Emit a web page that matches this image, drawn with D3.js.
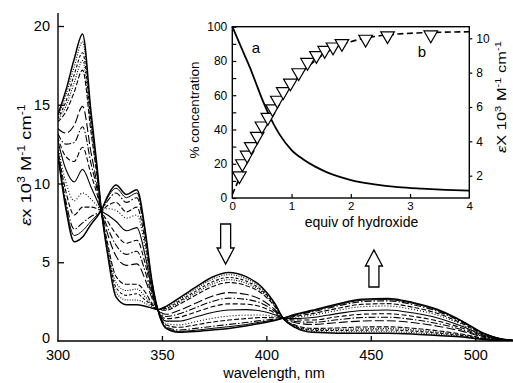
<!DOCTYPE html>
<html>
<head>
<meta charset="utf-8">
<script src="https://cdn.jsdelivr.net/npm/d3@7"></script>
<style>
  html, body { margin: 0; padding: 0; background: #fff; }
  svg { display: block; font-family: "Liberation Sans", Arial, sans-serif; }
</style>
</head>
<body>
<svg id="chart" width="513" height="383"></svg>
<script>
// Titration spectra: wavelength grid (nm) and molar absorptivity (10^3 M^-1 cm^-1)
const wavelengths = [300,304,308,312,316,319,321,324,328,333,338,342,345,348,352,358,366,374,382,390,398,404,408,414,422,434,446,458,470,482,494,504,512,520];

const spectra = [
  [14.3,15.9,17.9,19.5,14.6,11.0,8.3,5.5,2.8,2.3,2.3,2.2,2.1,2.0,2.2,2.7,3.4,4.05,4.35,4.1,3.4,2.4,1.45,0.85,0.55,0.5,0.5,0.5,0.45,0.35,0.25,0.1,0.03,0.0],
  [14.2,15.6,17.4,19.0,14.3,10.9,8.3,5.6,3.1,2.6,2.6,2.4,2.2,2.0,2.14,2.61,3.29,3.92,4.21,3.97,3.31,2.36,1.45,0.88,0.61,0.57,0.59,0.59,0.53,0.42,0.29,0.12,0.04,0.0],
  [14.1,15.2,16.9,18.3,14.0,10.7,8.3,5.8,3.4,2.9,3.0,2.6,2.3,2.0,2.07,2.51,3.15,3.75,4.03,3.82,3.2,2.3,1.45,0.93,0.68,0.67,0.69,0.7,0.63,0.5,0.34,0.14,0.04,0.0],
  [14.0,14.9,16.4,17.8,13.7,10.6,8.3,6.0,3.7,3.2,3.3,2.8,2.35,2.0,2.02,2.42,3.04,3.61,3.89,3.69,3.11,2.26,1.45,0.96,0.73,0.74,0.78,0.79,0.71,0.56,0.38,0.15,0.05,0.0],
  [13.9,14.55,15.8,17.2,13.3,10.4,8.3,6.2,4.1,3.6,3.6,3.1,2.44,2.0,1.95,2.31,2.9,3.45,3.71,3.53,3.0,2.2,1.45,1.0,0.8,0.83,0.89,0.9,0.81,0.65,0.43,0.17,0.05,0.01],
  [13.5,13.2,13.7,14.9,12.0,9.9,8.3,6.8,5.4,4.8,4.9,3.9,2.8,2.0,1.7,1.93,2.39,2.84,3.07,2.97,2.59,2.0,1.45,1.16,1.05,1.17,1.27,1.29,1.17,0.94,0.61,0.24,0.07,0.01],
  [13.2,12.5,12.6,13.6,11.3,9.6,8.3,7.2,6.1,5.5,5.7,4.4,3.0,2.0,1.56,1.71,2.11,2.51,2.72,2.65,2.37,1.89,1.45,1.24,1.19,1.35,1.49,1.51,1.37,1.11,0.71,0.28,0.09,0.01],
  [13.0,11.7,11.4,12.3,10.6,9.3,8.3,7.6,6.8,6.2,6.4,4.9,3.2,2.0,1.42,1.5,1.83,2.17,2.36,2.34,2.14,1.78,1.45,1.33,1.33,1.54,1.7,1.73,1.57,1.27,0.81,0.32,0.1,0.02],
  [12.8,10.9,10.1,10.9,9.8,8.9,8.3,8.0,7.6,7.0,7.2,5.4,3.4,2.0,1.26,1.26,1.52,1.81,1.97,1.99,1.89,1.66,1.45,1.42,1.49,1.74,1.94,1.97,1.79,1.46,0.92,0.37,0.11,0.02],
  [12.5,10.1,8.9,9.4,9.0,8.6,8.3,8.4,8.3,7.8,8.0,5.9,3.6,2.0,1.11,1.02,1.22,1.44,1.58,1.64,1.65,1.54,1.45,1.51,1.64,1.94,2.18,2.22,2.01,1.64,1.03,0.41,0.12,0.02],
  [12.3,9.5,8.0,8.5,8.5,8.4,8.3,8.6,8.8,8.2,8.5,6.3,3.7,2.0,1.01,0.87,1.02,1.2,1.33,1.42,1.49,1.47,1.45,1.57,1.74,2.07,2.33,2.37,2.15,1.75,1.1,0.44,0.13,0.03],
  [12.2,8.9,7.1,7.5,7.9,8.1,8.3,8.9,9.4,8.8,9.1,6.7,3.9,2.0,0.9,0.7,0.8,0.93,1.05,1.17,1.31,1.38,1.45,1.64,1.85,2.22,2.5,2.55,2.31,1.88,1.18,0.47,0.14,0.03],
  [12.1,8.6,6.7,7.0,7.6,8.0,8.3,9.1,9.7,9.1,9.4,6.9,3.9,2.0,0.84,0.61,0.68,0.8,0.91,1.04,1.22,1.33,1.45,1.67,1.91,2.29,2.59,2.63,2.39,1.95,1.22,0.49,0.15,0.03],
  [12.0,8.4,6.3,6.6,7.4,7.9,8.3,9.2,9.9,9.3,9.6,7.0,4.0,2.0,0.8,0.55,0.6,0.7,0.8,0.95,1.15,1.3,1.45,1.7,1.95,2.35,2.65,2.7,2.45,2.0,1.25,0.5,0.15,0.03]
];

// one dash pattern / width per spectrum
const lineDash  = [null,"1,1.5","3,2","1,1.5","5,2","9,3","7,2,1.5,2","5,2.5",null,"1,2","5,2","7,2,1.5,2",null,null];
const lineWidth = [1.5,1.1,1.1,1.1,1.1,1.1,1.1,1.1,1.1,1.1,1.1,1.1,1.0,1.5];

const xTicksMain = [300,350,400,450,500];
const yTicksMain = [0,5,10,15,20];

// Inset: (a) % concentration vs equivalents of hydroxide
const equivA = [0,0.1,0.2,0.3,0.4,0.5,0.6,0.7,0.8,1.0,1.2,1.4,1.6,1.8,2.0,2.4,2.8,3.2,3.6,4.0];
const concA  = [100,92,84,76,67,58,50,43,37,28,22.5,18.3,15,12.5,10.5,8,6.4,5.5,4.8,4.3];

// Inset: (b) absorptivity vs equivalents, measured points and fitted curve
const equivB = [0.12,0.17,0.25,0.32,0.42,0.5,0.6,0.68,0.76,0.86,0.98,1.12,1.27,1.42,1.56,1.7,1.85,2.25,2.62,3.35];
const epsB   = [1.9,2.6,3.1,3.6,4.2,4.8,5.3,5.8,6.3,6.8,7.3,7.9,8.5,8.9,9.2,9.4,9.6,9.85,10.05,10.1];
const equivFit = [0,0.1,0.2,0.4,0.6,0.8,1.0,1.2,1.4,1.6,1.8,2.0,2.4,2.8,3.2,3.6,4.0];
const epsFit   = [0.9,1.7,2.5,4.0,5.3,6.4,7.3,8.1,8.7,9.2,9.55,9.8,10.1,10.25,10.32,10.36,10.38];

const insetXTicks = [0,1,2,3,4];
const insetYTicks = [0,10,20,30,40,50,60,70,80,90,100];
const insetYLabels = [0,20,40,60,80,100];
const insetY2Ticks = [2,4,6,8,10];

const svg = d3.select("#chart");
const FONT = "Liberation Sans, Arial, sans-serif";

// ---------- main panel ----------
const x = d3.scaleLinear().domain([300, 520]).range([57.5, 517]);
const y = d3.scaleLinear().domain([0, 20]).range([341, 26]);

svg.append("defs").append("clipPath").attr("id", "plotclip")
  .append("rect").attr("x", 58).attr("y", 0).attr("width", 455).attr("height", 341);

const line = d3.line()
  .x((d, i) => x(wavelengths[i]))
  .y(d => y(d))
  .curve(d3.curveMonotoneX);

const curves = svg.append("g").attr("clip-path", "url(#plotclip)");
spectra.forEach((s, k) => {
  curves.append("path")
    .attr("d", line(s))
    .attr("fill", "none")
    .attr("stroke", "#000")
    .attr("stroke-width", lineWidth[k])
    .attr("stroke-dasharray", lineDash[k]);
});

// axes
const axes = svg.append("g").attr("stroke", "#000").attr("stroke-width", 1.4);
axes.append("line").attr("x1", 58).attr("x2", 58).attr("y1", 13).attr("y2", 341.5);
axes.append("line").attr("x1", 57.3).attr("x2", 513).attr("y1", 341).attr("y2", 341);

const xAxis = d3.axisBottom(x).tickValues(xTicksMain).tickSize(-5).tickPadding(7).tickFormat(d3.format("d"));
const gx = svg.append("g").attr("transform", "translate(0,341)").call(xAxis);
gx.select(".domain").remove();
gx.selectAll(".tick line").attr("stroke-width", 1.3).filter(d => d === 300).remove();
gx.selectAll(".tick text").attr("font-size", 14.5).attr("font-family", FONT).attr("dy", "0.8em");

const yAxis = d3.axisLeft(y).tickValues(yTicksMain).tickSize(-6).tickPadding(8).tickFormat(d3.format("d"));
const gy = svg.append("g").attr("transform", "translate(58,0)").call(yAxis);
gy.select(".domain").remove();
gy.selectAll(".tick line").attr("stroke-width", 1.3).filter(d => d === 0).remove();
gy.selectAll(".tick text").attr("font-size", 14.5).attr("font-family", FONT);
gy.selectAll(".tick").filter(d => d === 0).select("text").attr("dy", "0.1em");

svg.append("text").attr("x", 274).attr("y", 378).attr("text-anchor", "middle")
  .attr("font-size", 14.5).text("wavelength, nm");

function epsLabel(sel, xCap) {
  sel.append("tspan").attr("font-style", "italic").text("ε");
  sel.append("tspan").text(xCap + " 10");
  sel.append("tspan").attr("font-size", "0.68em").attr("dy", "-0.55em").text("3");
  sel.append("tspan").attr("dy", "0.37em").text(" M");
  sel.append("tspan").attr("font-size", "0.68em").attr("dy", "-0.55em").text("-1");
  sel.append("tspan").attr("dy", "0.37em").text(" cm");
  sel.append("tspan").attr("font-size", "0.68em").attr("dy", "-0.55em").text("-1");
}

const yTitle = svg.append("text")
  .attr("transform", "translate(31,165) rotate(-90) scale(1.22,1)")
  .attr("text-anchor", "middle").attr("font-size", 15);
epsLabel(yTitle, "x");

// hollow arrows marking band changes
function arrow(cx, yTop, yBot, down) {
  const sw = 5, hw = 8.5, hl = 16;
  let pts;
  if (down) {
    const hb = yBot - hl;
    pts = [[cx - sw, yTop], [cx + sw, yTop], [cx + sw, hb], [cx + hw, hb], [cx, yBot], [cx - hw, hb], [cx - sw, hb]];
  } else {
    const hb = yTop + hl;
    pts = [[cx - sw, yBot], [cx + sw, yBot], [cx + sw, hb], [cx + hw, hb], [cx, yTop], [cx - hw, hb], [cx - sw, hb]];
  }
  svg.append("path").attr("d", d3.line()(pts) + "Z")
    .attr("fill", "#fff").attr("stroke", "#000").attr("stroke-width", 1.3);
}
arrow(x(380.5), 224, 264, true);
arrow(x(451.5), 250, 287, false);

// ---------- inset ----------
const ix = d3.scaleLinear().domain([0, 4]).range([232.3, 469.3]);
const iy = d3.scaleLinear().domain([0, 100]).range([198, 26.7]);
const iy2 = d3.scaleLinear().domain([0.70, 10.675]).range([198, 26.7]);

svg.append("rect").attr("x", 232.3).attr("y", 26.7).attr("width", 237).attr("height", 171.3)
  .attr("fill", "#fff").attr("stroke", "#000").attr("stroke-width", 1.4);

// fitted curve b
svg.append("path")
  .attr("d", d3.line().x((d, i) => ix(equivFit[i])).y(d => iy2(d)).curve(d3.curveMonotoneX)(epsFit))
  .attr("fill", "none").attr("stroke", "#000").attr("stroke-width", 1.6).attr("stroke-dasharray", "6,3.5");

// curve a
svg.append("path")
  .attr("d", d3.line().x((d, i) => ix(equivA[i])).y(d => iy(d)).curve(d3.curveMonotoneX)(concA))
  .attr("fill", "none").attr("stroke", "#000").attr("stroke-width", 1.8);

// measured points b (down-pointing triangles)
const tri = "M-6.8,-5.6L6.8,-5.6L0,6.2Z";
svg.append("g").selectAll("path").data(epsB).join("path")
  .attr("transform", (d, i) => `translate(${ix(equivB[i])},${iy2(d)})`)
  .attr("d", tri).attr("fill", "#fff").attr("stroke", "#000").attr("stroke-width", 1.2);

// inset axes
const ixAxis = d3.axisBottom(ix).tickValues(insetXTicks).tickSize(-4).tickPadding(3.5).tickFormat(d3.format("d"));
const gix = svg.append("g").attr("transform", "translate(0,198)").call(ixAxis);
gix.select(".domain").remove();
gix.selectAll(".tick line").attr("stroke-width", 1.2).filter(d => d === 0 || d === 4).remove();
gix.selectAll(".tick text").attr("font-size", 11.5).attr("font-family", FONT);

const iyAxis = d3.axisLeft(iy).tickValues(insetYTicks).tickSize(-4).tickPadding(5)
  .tickFormat(d => insetYLabels.includes(d) ? d : "");
const giy = svg.append("g").attr("transform", "translate(232.3,0)").call(iyAxis);
giy.select(".domain").remove();
giy.selectAll(".tick line").attr("stroke-width", 1.2);
giy.selectAll(".tick text").attr("font-size", 12).attr("font-family", FONT);

const iy2Axis = d3.axisRight(iy2).tickValues(insetY2Ticks).tickSize(3).tickPadding(4).tickFormat(d3.format("d"));
const giy2 = svg.append("g").attr("transform", "translate(469.3,0)").call(iy2Axis);
giy2.select(".domain").remove();
giy2.selectAll(".tick line").attr("stroke-width", 1.2);
giy2.selectAll(".tick text").attr("font-size", 12).attr("font-family", FONT);

svg.append("text").attr("x", 361.5).attr("y", 226.5).attr("text-anchor", "middle")
  .attr("font-size", 14).text("equiv of hydroxide");

svg.append("text").attr("transform", "translate(199,110) rotate(-90)")
  .attr("text-anchor", "middle").attr("font-size", 13.5).text("% concentration");

const y2Title = svg.append("text")
  .attr("transform", "translate(506,97) rotate(-90) scale(1.22,1)")
  .attr("text-anchor", "middle").attr("font-size", 13.5);
epsLabel(y2Title, "X");

svg.append("text").attr("x", 256).attr("y", 53).attr("text-anchor", "middle").attr("font-size", 15).text("a");
svg.append("text").attr("x", 422).attr("y", 57).attr("text-anchor", "middle").attr("font-size", 15).text("b");
</script>
</body>
</html>
